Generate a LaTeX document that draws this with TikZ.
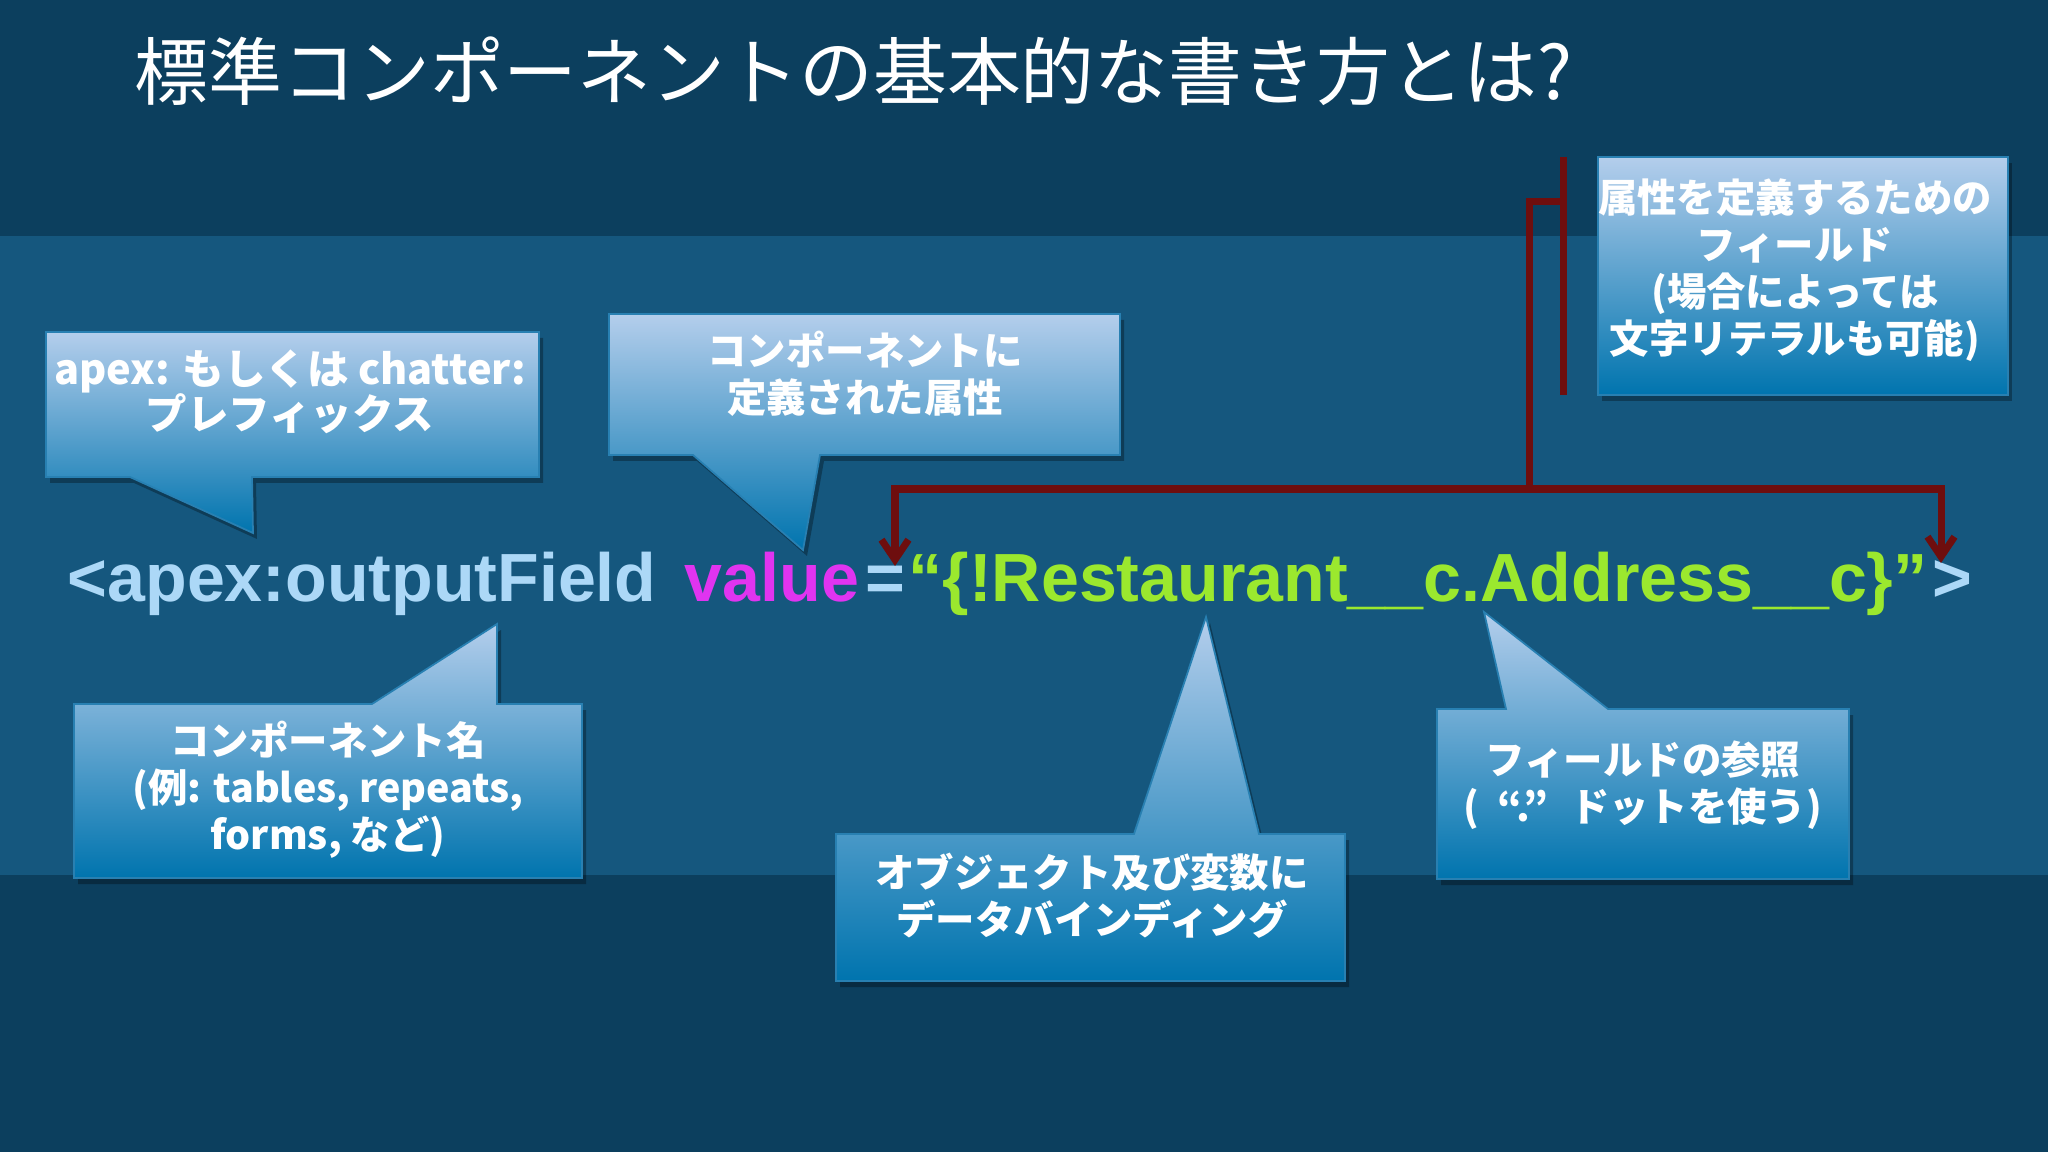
\documentclass[tikz,border=0pt]{standalone}
\usepackage{fontspec}
\newfontfamily\jp{Noto Sans CJK JP}
\newfontfamily\codefont{Liberation Sans}
\usetikzlibrary{arrows.meta}
\definecolor{bgdark}{RGB}{12,63,94}
\definecolor{bgmid}{RGB}{21,87,126}
\definecolor{ctop}{RGB}{180,206,236}
\definecolor{cbot}{RGB}{0,116,174}
\definecolor{cedge}{RGB}{40,128,178}
\definecolor{codeblue}{RGB}{172,216,247}
\definecolor{codemag}{RGB}{224,52,240}
\definecolor{codegreen}{RGB}{155,232,46}
\definecolor{brred}{RGB}{110,14,14}
\tikzset{
  callout/.style={top color=ctop, bottom color=cbot, draw=cedge, line width=0.5pt},
  dropsh/.style={fill=black, opacity=0.3},
  btext/.style={text=white, align=center, inner sep=0pt,
     font=\jp\bfseries\fontsize{11.2}{13.4}\selectfont},
  codetxt/.style={anchor=base west, inner sep=0pt,
     font=\codefont\bfseries\fontsize{19.38}{22}\selectfont},
  bracket/.style={draw=brred, line width=2pt},
  brarrow/.style={bracket, -{Straight Barb[length=0.2cm,width=0.27cm]}}
}
\begin{document}
\begin{tikzpicture}[x=0.01cm,y=-0.01cm]
% background
\fill[bgdark] (0,0) rectangle (2048,1152);
\fill[bgmid] (0,236) rectangle (2048,875);
\useasboundingbox (0,0) rectangle (2048,1152);

% title
\node[anchor=base west, inner sep=0pt, text=white,
  font=\jp\fontsize{21}{24}\selectfont] (title) at (134,100)
  {標準コンポーネントの基本的な書き方とは?};

% code line
\node[codetxt, text=codeblue] (tag) at (67,602) {<apex:outputField};
\node[codetxt, text=codemag] (attr) at (684,602) {value};
\node[codetxt, text=codeblue] (eq) at (865,602) {=};
\node[codetxt, text=codegreen] (val) at (908,602) {“\{!Restaurant\_\_c.Address\_\_c\}”};
\node[codetxt, text=codeblue] (close) at (1932,602) {>};

% callout A
\fill[dropsh] (50,338) -- (543,338) -- (543,483) -- (256,483) -- (257,539) -- (134,483) -- (50,483) -- cycle;
\path[callout] (46,332) -- (539,332) -- (539,477) -- (252,477) -- (253,533) -- (130,477) -- (46,477) -- cycle;
\node[btext, font=\jp\bfseries\fontsize{11.8}{12.8}\selectfont] (cA) at (290,392) {apex: もしくは chatter:\\プレフィックス};

% callout B
\fill[dropsh] (613,320) -- (1124,320) -- (1124,461) -- (824,461) -- (807,556) -- (697,461) -- (613,461) -- cycle;
\path[callout] (609,314) -- (1120,314) -- (1120,455) -- (820,455) -- (803,550) -- (693,455) -- (609,455) -- cycle;
\node[btext] (cB) at (865,374) {コンポーネントに\\定義された属性};

% callout C
\fill[dropsh] (1602,163) rectangle (2012,401);
\path[callout] (1598,157) rectangle (2008,395);
\node[btext] (cC) at (1795,270) {属性を定義するための\\フィールド\\(場合によっては\\文字リテラルも可能)};

% callout D
\fill[dropsh] (78,710) -- (376,710) -- (501,630) -- (501,710) -- (586,710) -- (586,884) -- (78,884) -- cycle;
\path[callout] (74,704) -- (372,704) -- (497,624) -- (497,704) -- (582,704) -- (582,878) -- (74,878) -- cycle;
\node[btext] (cD) at (328,790) {コンポーネント名\\(例: tables, repeats,\\forms, など)};

% callout E
\fill[dropsh] (840,840) -- (1138,840) -- (1210,623) -- (1263,840) -- (1349,840) -- (1349,987) -- (840,987) -- cycle;
\path[callout] (836,834) -- (1134,834) -- (1206,617) -- (1259,834) -- (1345,834) -- (1345,981) -- (836,981) -- cycle;
\node[btext] (cE) at (1092,896) {オブジェクト及び変数に\\データバインディング};

% callout F
\fill[dropsh] (1441,715) -- (1510,715) -- (1488,618) -- (1612,715) -- (1853,715) -- (1853,885) -- (1441,885) -- cycle;
\path[callout] (1437,709) -- (1506,709) -- (1484,612) -- (1608,709) -- (1849,709) -- (1849,879) -- (1437,879) -- cycle;
\node[btext] (cF) at (1643,785) {フィールドの参照\\(\hspace{0.45em}“.”\hspace{0.55em}ドットを使う)};

% bracket connector
\coordinate (bTop) at (1563.5,157);
\coordinate (bBot) at (1563.5,395);
\coordinate (bStub) at (1563.5,201.5);
\coordinate (bJoin) at (1529.5,201.5);
\coordinate (bMid) at (1529.5,489);
\coordinate (bL) at (895,489);
\coordinate (bR) at (1941,489);
\coordinate (tipL) at (895,566);
\coordinate (tipR) at (1941,563);
\draw[bracket] (bTop) -- (bBot);
\draw[bracket] (bStub) -- (bJoin) -- (bMid);
\draw[brarrow] (bMid) -- (bL) -- (tipL);
\draw[brarrow] (bMid) -- (bR) -- (tipR);
\end{tikzpicture}
\end{document}
